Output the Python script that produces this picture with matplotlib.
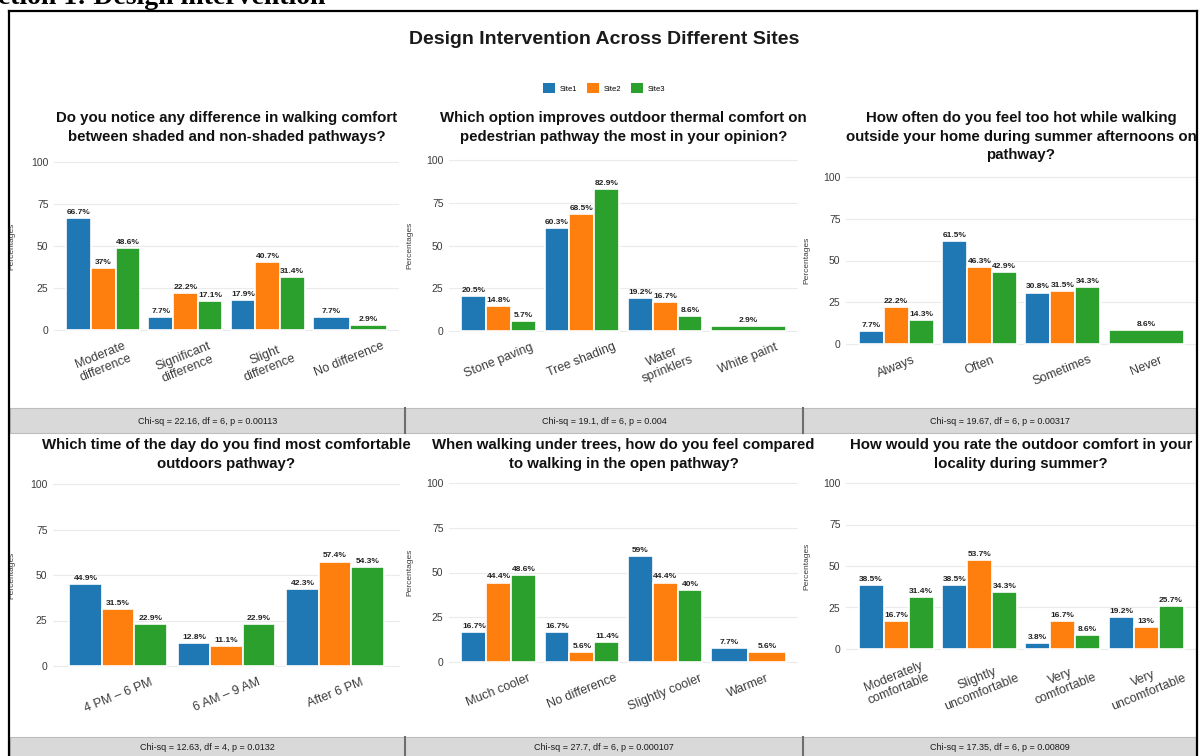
import matplotlib
matplotlib.use('Agg')
import matplotlib.pyplot as plt
from matplotlib.patches import Rectangle, Patch
from matplotlib.lines import Line2D

plt.rcParams['font.family'] = ['Liberation Sans', 'DejaVu Sans']

W, H = 1200, 756

site_names = ['Site1', 'Site2', 'Site3']
site_colors = ['#1f77b4', '#ff7f0e', '#2ca02c']

# Q1
q1_title = 'Do you notice any difference in walking comfort\nbetween shaded and non-shaded pathways?'
q1_cats = ['Moderate\ndifference', 'Significant\ndifference', 'Slight\ndifference', 'No difference']
q1_site1 = [66.7, 7.7, 17.9, 7.7]
q1_site2 = [37, 22.2, 40.7, None]
q1_site3 = [48.6, 17.1, 31.4, 2.9]
q1_stat = 'Chi-sq = 22.16, df = 6, p = 0.00113'

# Q2
q2_title = 'Which option improves outdoor thermal comfort on\npedestrian pathway the most in your opinion?'
q2_cats = ['Stone paving', 'Tree shading', 'Water\nsprinklers', 'White paint']
q2_site1 = [20.5, 60.3, 19.2, None]
q2_site2 = [14.8, 68.5, 16.7, None]
q2_site3 = [5.7, 82.9, 8.6, 2.9]
q2_stat = 'Chi-sq = 19.1, df = 6, p = 0.004'

# Q3
q3_title = ('How often do you feel too hot while walking\n'
            'outside your home during summer afternoons on\npathway?')
q3_cats = ['Always', 'Often', 'Sometimes', 'Never']
q3_site1 = [7.7, 61.5, 30.8, None]
q3_site2 = [22.2, 46.3, 31.5, None]
q3_site3 = [14.3, 42.9, 34.3, 8.6]
q3_stat = 'Chi-sq = 19.67, df = 6, p = 0.00317'

# Q4
q4_title = 'Which time of the day do you find most comfortable\noutdoors pathway?'
q4_cats = ['4 PM – 6 PM', '6 AM – 9 AM', 'After 6 PM']
q4_site1 = [44.9, 12.8, 42.3]
q4_site2 = [31.5, 11.1, 57.4]
q4_site3 = [22.9, 22.9, 54.3]
q4_stat = 'Chi-sq = 12.63, df = 4, p = 0.0132'

# Q5
q5_title = 'When walking under trees, how do you feel compared\nto walking in the open pathway?'
q5_cats = ['Much cooler', 'No difference', 'Slightly cooler', 'Warmer']
q5_site1 = [16.7, 16.7, 59, 7.7]
q5_site2 = [44.4, 5.6, 44.4, 5.6]
q5_site3 = [48.6, 11.4, 40, None]
q5_stat = 'Chi-sq = 27.7, df = 6, p = 0.000107'

# Q6
q6_title = 'How would you rate the outdoor comfort in your\nlocality during summer?'
q6_cats = ['Moderately\ncomfortable', 'Slightly\nuncomfortable', 'Very\ncomfortable', 'Very\nuncomfortable']
q6_site1 = [38.5, 38.5, 3.8, 19.2]
q6_site2 = [16.7, 53.7, 16.7, 13]
q6_site3 = [31.4, 34.3, 8.6, 25.7]
q6_stat = 'Chi-sq = 17.35, df = 6, p = 0.00809'

panels = [
    (q1_title, q1_cats, [q1_site1, q1_site2, q1_site3], q1_stat),
    (q2_title, q2_cats, [q2_site1, q2_site2, q2_site3], q2_stat),
    (q3_title, q3_cats, [q3_site1, q3_site2, q3_site3], q3_stat),
    (q4_title, q4_cats, [q4_site1, q4_site2, q4_site3], q4_stat),
    (q5_title, q5_cats, [q5_site1, q5_site2, q5_site3], q5_stat),
    (q6_title, q6_cats, [q6_site1, q6_site2, q6_site3], q6_stat),
]

# pixel layout: left, right, y of 100, y of 0, ylabel x, title top
boxes = [
    (54, 399, 162, 330, 15, 111),
    (449, 798, 160, 331, 413, 111),
    (846, 1196, 177, 344, 810, 111),
    (53, 400, 484, 666, 15, 438),
    (449, 798, 483, 662, 413, 438),
    (846, 1196, 483, 649, 810, 438),
]
strip_cols = [(10, 405), (405, 803), (803, 1196)]
strip_rows = [(408, 433), (737, 760)]


def fx(x):
    return x / W


def fy(y):
    return 1 - y / H


fig = plt.figure(figsize=(12, 7.56), dpi=100)
fig.patch.set_facecolor('white')

for (title, cats, vals, stat), box in zip(panels, boxes):
    left, right, y100, y0, ylab_x, ttop = box
    scale = (y0 - y100) / 100.0
    top = y100 - 5 * scale
    bottom = y0 + 5 * scale
    ax = fig.add_axes([fx(left), fy(bottom), (right - left) / W, (bottom - top) / H])
    ax.set_xlim(-0.6, len(cats) - 0.4)
    ax.set_ylim(-5, 105)
    for i in range(len(cats)):
        present = [k for k in range(3) if vals[k][i] is not None]
        w = 0.9 / len(present)
        for j, k in enumerate(present):
            x = i - 0.45 + w * (j + 0.5)
            v = vals[k][i]
            ax.bar(x, v, width=w, color=site_colors[k], edgecolor='white', linewidth=1.2, zorder=2)
            ax.annotate(f'{v:g}%', (x, v), xytext=(0, 1.5), textcoords='offset points',
                        ha='center', va='bottom', fontsize=6, fontweight='bold', color='#222222')
    ax.set_xticks(range(len(cats)))
    ax.set_xticklabels(cats, rotation=22, ha='center', fontsize=9, color='#3c3c3c')
    ax.set_yticks([0, 25, 50, 75, 100])
    ax.tick_params(axis='both', length=0)
    ax.tick_params(axis='y', labelsize=7.5, labelcolor='#3c3c3c', pad=4)
    ax.tick_params(axis='x', pad=1)
    ax.yaxis.grid(True, color='#ebebeb', lw=0.8)
    ax.set_axisbelow(True)
    for s in ax.spines.values():
        s.set_visible(False)
    ax.set_ylabel('Percentages', fontsize=6, color='#3c3c3c')
    ax.yaxis.set_label_coords((ylab_x - left) / (right - left), 0.5)
    fig.text(fx((left + right) / 2), fy(ttop), title, ha='center', va='top',
             fontsize=10.8, fontweight='bold', color='#111111', linespacing=1.42)

# grey caption strips with the test results
for r, (sy0, sy1) in enumerate(strip_rows):
    for c, (sx0, sx1) in enumerate(strip_cols):
        fig.add_artist(Rectangle((fx(sx0), fy(sy1)), (sx1 - sx0) / W, (sy1 - sy0) / H,
                                 transform=fig.transFigure, facecolor='#d9d9d9',
                                 edgecolor='#bdbdbd', lw=0.8))
        fig.text(fx((sx0 + sx1) / 2), fy((sy0 + min(sy1, 756)) / 2 + 1), panels[r * 3 + c][3],
                 ha='center', va='center', fontsize=6.5, color='#1a1a1a')
    for sx in (405, 803):
        fig.add_artist(Line2D([fx(sx), fx(sx)], [fy(sy0), fy(sy1)], transform=fig.transFigure,
                              color='#6e6e6e', lw=1.5))

fig.text(fx(604), fy(40), 'Design Intervention Across Different Sites', ha='center', va='center',
         fontsize=14, fontweight='bold', color='#1a1a1a')

handles = [Patch(facecolor=c, label=n) for c, n in zip(site_colors, site_names)]
fig.legend(handles=handles, loc='center', bbox_to_anchor=(fx(604), fy(88)), ncol=3, frameon=False,
           fontsize=5.5, handlelength=1.6, handleheight=1.6, columnspacing=1.3, handletextpad=0.6)

# document heading above the figure frame, mostly cut off
fig.text(fx(325), fy(4), 'Section 1: Design intervention', ha='right', va='baseline',
         fontsize=20, fontweight='bold', family='Liberation Serif', color='black')

# black frame
for xs, ys in [((9, 1197), (11, 11)), ((9, 9), (11, 760)), ((1197, 1197), (11, 760))]:
    fig.add_artist(Line2D([fx(xs[0]), fx(xs[1])], [fy(ys[0]), fy(ys[1])],
                          transform=fig.transFigure, color='black', lw=1.6))

fig.savefig('out.png', dpi=100)
